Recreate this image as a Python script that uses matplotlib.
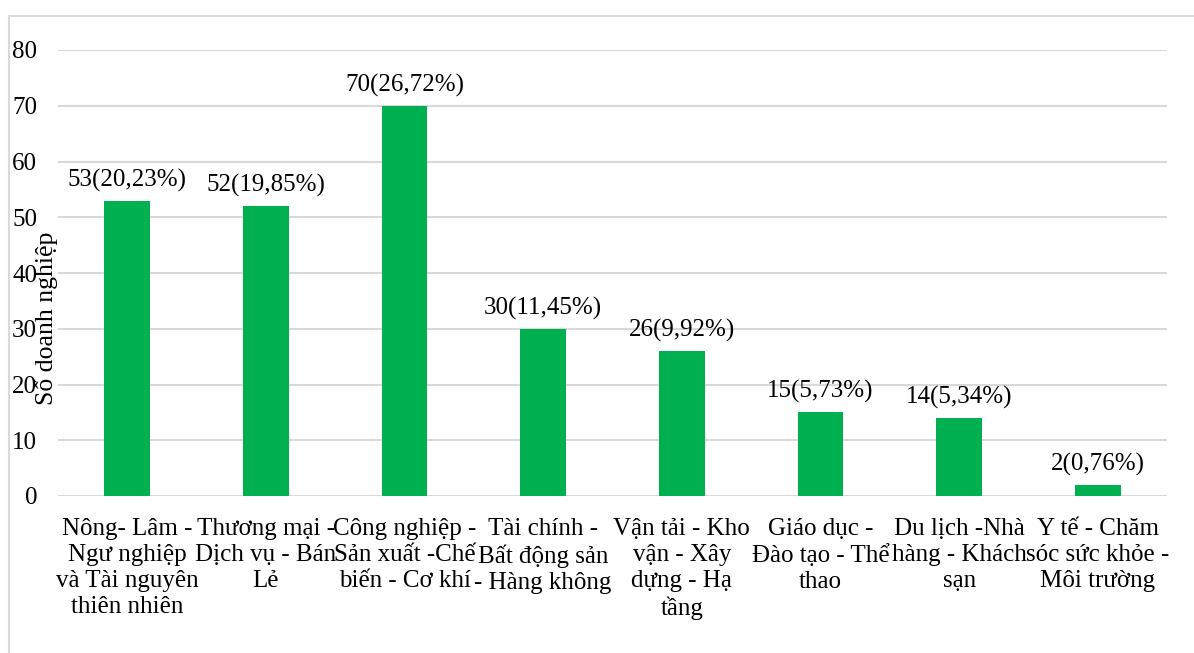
import matplotlib.pyplot as plt
from matplotlib.patches import Rectangle

# Data
categories = [
    "Nông- Lâm -\nNgư nghiệp\nvà Tài nguyên\nthiên nhiên",
    "Thương mại -\nDịch vụ - Bán\nLẻ",
    "Công nghiệp -\nSản xuất -Chế\nbiến - Cơ khí",
    "Tài chính -\nBất động sản\n- Hàng không",
    "Vận tải - Kho\nvận - Xây\ndựng - Hạ\ntầng",
    "Giáo dục -\nĐào tạo - Thể\nthao",
    "Du lịch -Nhà\nhàng - Khách\nsạn",
    "Y tế - Chăm\nsóc sức khỏe -\nMôi trường",
]
counts = [53, 52, 70, 30, 26, 15, 14, 2]
percents = ["20,23", "19,85", "26,72", "11,45", "9,92", "5,73", "5,34", "0,76"]
y_ticks = [0, 10, 20, 30, 40, 50, 60, 70, 80]

plt.rcParams['font.family'] = ['Liberation Serif', 'DejaVu Serif']
FS = 18

W, H = 1194, 653
fig = plt.figure(figsize=(W / 100, H / 100), dpi=100)

# light grey frame around the chart area
fig.patches.append(Rectangle((9 / W, -0.1), 1.2, 1 - 16 / H + 0.1, transform=fig.transFigure,
                             fill=False, edgecolor="#d9d9d9", linewidth=1.5))

ax = fig.add_axes([58 / W, 1 - 496 / H, (1167 - 58) / W, (496 - 50) / H])
x = range(len(categories))
ax.bar(x, counts, width=0.33, color="#00B050", zorder=3)

for i, (c, p) in enumerate(zip(counts, percents)):
    ax.text(i, c + 1.6, f"{c}({p}%)", ha="center", va="bottom", fontsize=FS)

ax.set_xlim(-0.5, len(categories) - 0.5)
ax.set_ylim(0, 80)
ax.set_yticks(y_ticks)
ax.set_yticklabels([str(t) for t in y_ticks], fontsize=FS)
ax.set_xticks(list(x))
ax.set_xticklabels(categories, fontsize=FS, linespacing=1.23)
ax.tick_params(length=0)
ax.tick_params(axis="y", pad=15)
ax.tick_params(axis="x", pad=16)
ax.grid(axis="y", color="#d9d9d9", linewidth=1.5, zorder=0)
for s in ax.spines.values():
    s.set_visible(False)

# axis title sits on top of the tick labels, as in the original
ax.set_ylabel("Số doanh nghiệp", fontsize=18.5)
ax.yaxis.set_label_coords(0.0, 0.399)

fig.savefig("out.png", dpi=100)
